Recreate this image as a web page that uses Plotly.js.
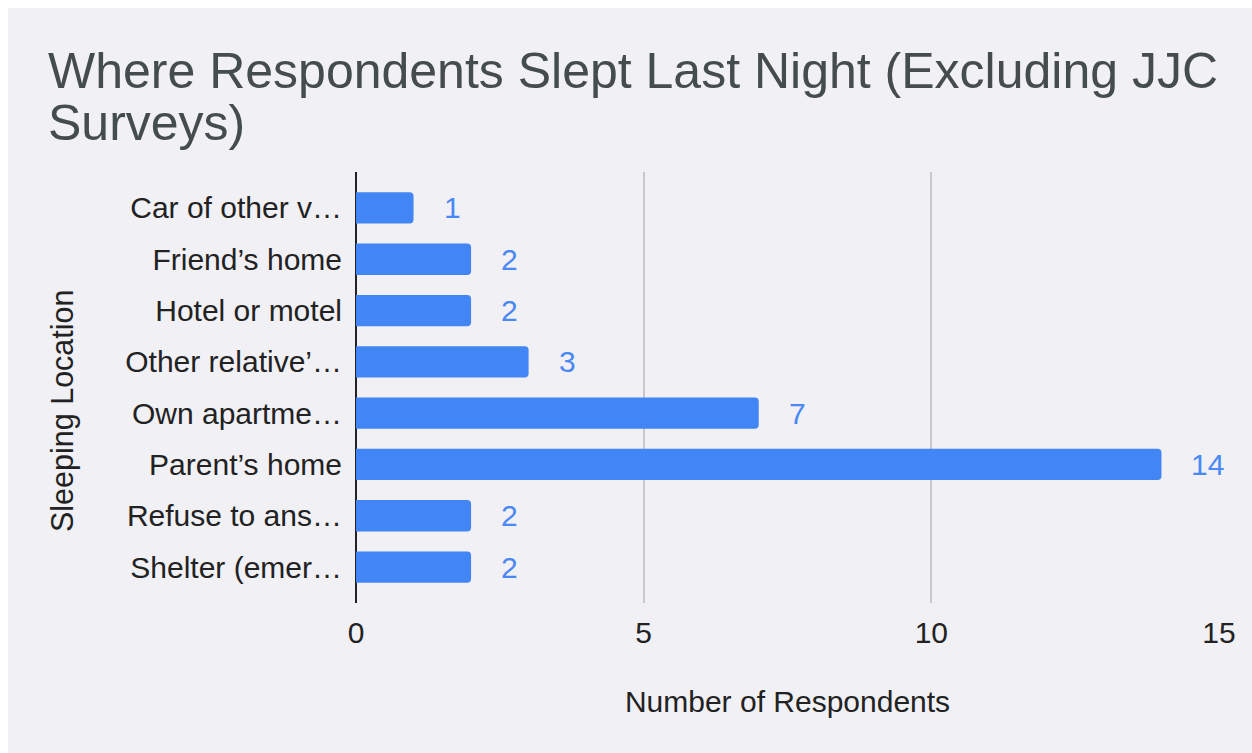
<!DOCTYPE html>
<html>
<head>
<meta charset="utf-8">
<script src="https://cdn.plot.ly/plotly-3.0.1.min.js"></script>
<style>
  html, body { background: #ffffff; margin: 0; padding: 0; overflow: hidden; width: 1252px; height: 753px; }
  #chart { position: absolute; left: 8px; top: 8px; width: 1252px; height: 753px; }
</style>
</head>
<body>
<div id="chart"></div>
<script>
const categories = [
  "Car of other v…",
  "Friend’s home",
  "Hotel or motel",
  "Other relative’…",
  "Own apartme…",
  "Parent’s home",
  "Refuse to ans…",
  "Shelter (emer…"
];
const respondents = [1, 2, 2, 3, 7, 14, 2, 2];
const xTicks = [0, 5, 10, 15];

const titleText = "Where Respondents Slept Last Night (Excluding JJC<br>Surveys)";
const xTitle = "Number of Respondents";
const yTitle = "Sleeping Location";

const FONT = "Liberation Sans, Arial, Helvetica, sans-serif";
const BG = "#f0f0f5";
const BAR = "#4285f4";

const trace = {
  type: "bar",
  orientation: "h",
  y: categories,
  x: respondents,
  marker: { color: BAR, cornerradius: 4 },
  hoverinfo: "x+y"
};

const valueLabels = respondents.map((v, i) => ({
  x: v, y: categories[i], xref: "x", yref: "y",
  text: String(v), showarrow: false,
  xanchor: "left", yanchor: "middle", xshift: 29,
  bgcolor: BG, borderpad: 0,
  font: { family: FONT, size: 30, color: "#4a89f3" }
}));

const layout = {
  width: 1252, height: 753,
  paper_bgcolor: BG, plot_bgcolor: BG,
  font: { family: FONT, size: 30, color: "#222222" },
  margin: { l: 348, r: 41, t: 164, b: 158, pad: 0 },
  bargap: 0.39,
  showlegend: false,
  title: {
    text: titleText,
    font: { family: FONT, size: 50, color: "#454c4c" },
    xref: "container", yref: "container",
    x: 40 / 1252, xanchor: "left",
    y: 1 - 80 / 753, yanchor: "top"
  },
  xaxis: {
    range: [0, 15],
    tickvals: xTicks,
    ticktext: xTicks.map(String),
    showgrid: true, gridcolor: "#c8c8c8", gridwidth: 2,
    zeroline: true, zerolinecolor: "#222222", zerolinewidth: 2,
    showline: false, ticks: "",
    ticklabelstandoff: 9,
    tickfont: { family: FONT, size: 30, color: "#222222" },
    title: { text: xTitle, standoff: 42, font: { family: FONT, size: 30, color: "#222222" } },
    fixedrange: true
  },
  yaxis: {
    type: "category",
    range: [7.7, -0.7],
    showgrid: false, zeroline: false, showline: false, ticks: "",
    ticklabelstandoff: 13,
    tickfont: { family: FONT, size: 30, color: "#222222" },
    fixedrange: true
  },
  annotations: valueLabels.concat([{
    xref: "paper", yref: "paper",
    x: (54 - 348) / 863, y: (595 - 403) / 431,
    xanchor: "center", yanchor: "middle",
    textangle: -90, showarrow: false,
    text: yTitle,
    font: { family: FONT, size: 30.5, color: "#222222" }
  }])
};

Plotly.newPlot("chart", [trace], layout, { displayModeBar: false, staticPlot: true }).then(function (gd) {
  const lines = gd.querySelectorAll(".gtitle tspan.line");
  if (lines.length > 1) lines[1].setAttribute("dy", "1.04em");
});
</script>
</body>
</html>
